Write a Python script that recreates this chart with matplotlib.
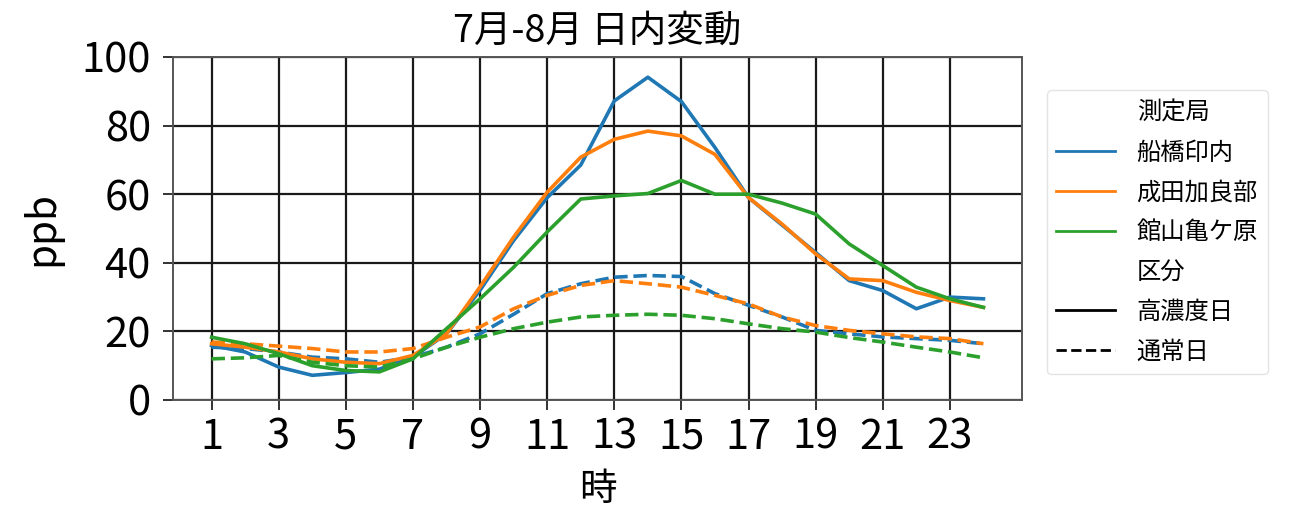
import numpy as np
import matplotlib
matplotlib.use("Agg")
import matplotlib.pyplot as plt
from matplotlib.lines import Line2D

plt.rcParams['font.family'] = ['Noto Sans CJK JP', 'DejaVu Sans']

hours = list(range(1, 25))

stations = ["船橋印内", "成田加良部", "館山亀ケ原"]
colors = ["#1f77b4", "#ff7f0e", "#2ca02c"]

# 高濃度日
high_funabashi = [15.9, 14.0, 9.6, 7.2, 8.0, 9.0, 12.5, 19.3, 32.0, 46.5, 59.0, 68.5,
                  87.2, 94.1, 87.0, 73.6, 59.0, 51.0, 43.0, 34.8, 31.9, 26.6, 30.0, 29.5]
high_narita = [16.4, 15.4, 14.0, 12.0, 11.0, 10.6, 13.0, 19.3, 33.0, 47.5, 60.6, 70.8,
               76.0, 78.4, 77.0, 71.6, 59.0, 51.3, 42.6, 35.3, 34.8, 31.4, 29.0, 27.0]
high_tateyama = [18.3, 16.4, 13.5, 10.0, 8.6, 8.2, 12.0, 20.8, 29.5, 38.7, 49.0, 58.6,
                 59.5, 60.2, 64.0, 60.0, 60.0, 57.4, 54.2, 45.5, 39.2, 32.9, 29.5, 27.0]

# 通常日
norm_funabashi = [15.4, 15.0, 14.0, 12.5, 12.0, 11.0, 12.5, 15.4, 19.3, 25.0, 31.0, 33.9,
                  35.8, 36.3, 36.0, 31.0, 27.6, 24.2, 20.3, 19.3, 18.4, 17.9, 17.4, 16.4]
norm_narita = [16.9, 16.4, 15.7, 15.0, 14.0, 14.0, 15.0, 18.3, 21.3, 26.6, 30.5, 33.4,
               34.8, 33.9, 32.9, 30.5, 28.0, 24.2, 21.7, 20.3, 19.3, 18.4, 17.9, 16.4]
norm_tateyama = [12.0, 12.3, 13.0, 11.0, 10.0, 9.6, 12.0, 15.4, 18.3, 20.8, 22.7, 24.2,
                 24.7, 25.0, 24.7, 23.7, 22.2, 20.8, 19.8, 18.2, 16.9, 15.4, 14.0, 12.3]

high = [high_funabashi, high_narita, high_tateyama]
normal = [norm_funabashi, norm_narita, norm_tateyama]

dash = (0, (3.7, 1.6))

fig = plt.figure(figsize=(12.97, 5.08), dpi=100)
ax = fig.add_axes([0.1334, 0.2126, 0.6546, 0.6752])

for name, c, h, n in zip(stations, colors, high, normal):
    ax.plot(hours, h, color=c, lw=2.6)
    ax.plot(hours, n, color=c, lw=2.6, ls=dash)

ax.set_xlim(-0.15, 25.15)
ax.set_ylim(0, 100)
ax.set_xticks(range(1, 25, 2))
ax.set_yticks(range(0, 101, 20))
ax.grid(True, color="#1a1a1a", lw=1.6)
ax.set_axisbelow(True)
ax.tick_params(labelsize=30, length=7, width=1.4, color="#333333")
ax.tick_params(axis="x", pad=5)
ax.tick_params(axis="y", pad=9)
for s in ax.spines.values():
    s.set_color("#555555")
    s.set_linewidth(1.4)

ax.set_title("7月-8月 日内変動", fontsize=27, pad=11)
ax.set_xlabel("時", fontsize=27, labelpad=9)
ax.set_ylabel("ppb", fontsize=29, labelpad=14)

handles = [Line2D([], [], color="none")]
labels = ["測定局"]
for name, c in zip(stations, colors):
    handles.append(Line2D([], [], color=c, lw=2))
    labels.append(name)
handles.append(Line2D([], [], color="none"))
labels.append("区分")
handles.append(Line2D([], [], color="black", lw=2))
labels.append("高濃度日")
handles.append(Line2D([], [], color="black", lw=2, ls=dash))
labels.append("通常日")

fig.legend(handles, labels, loc="upper left", bbox_to_anchor=(0.807, 0.823),
           fontsize=17.5, frameon=True, edgecolor="#dddddd", fancybox=True,
           handlelength=2.4, handletextpad=0.9, labelspacing=0.57,
           borderpad=0.4, borderaxespad=0)

fig.savefig("out.png", dpi=100)
